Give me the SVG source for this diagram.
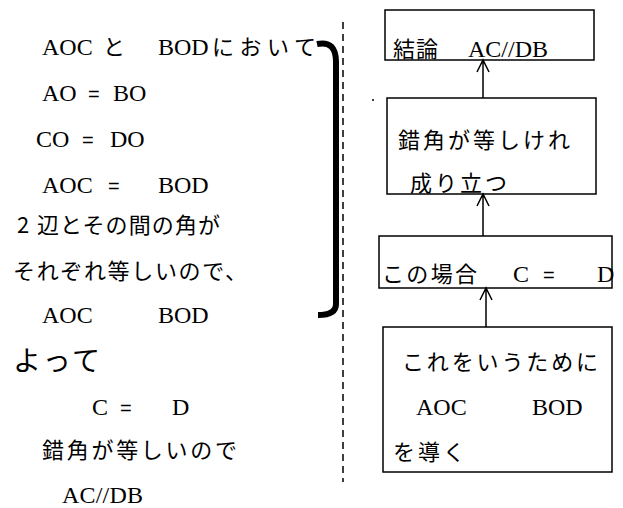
<svg xmlns="http://www.w3.org/2000/svg" width="623" height="508" viewBox="0 0 623 508">
<style>
.lat{font-family:"Liberation Serif","Times New Roman",serif;font-size:24px;fill:#000}
.jp{font-family:"Noto Sans CJK JP","Noto Sans",sans-serif;font-size:22px;fill:#000}
.eq{font-family:"Liberation Sans",Arial,sans-serif;font-size:20px;fill:#000}
.box{fill:#fff;stroke:#000;stroke-width:1.5}
.conn{fill:none;stroke:#000;stroke-width:1.5}
</style>
<rect width="623" height="508" fill="#fff"/>
<g id="proof">
<text class="lat" x="42" y="55">AOC</text><text class="jp" x="103" y="55">と</text><text class="lat" x="158" y="55">BOD</text><text class="jp" x="212" y="55" textLength="104" lengthAdjust="spacing">において</text>
<text class="lat" x="42" y="101">AO</text><text class="eq" x="88" y="101">=</text><text class="lat" x="113" y="101">BO</text>
<text class="lat" x="36" y="147">CO</text><text class="eq" x="82" y="147">=</text><text class="lat" x="110" y="147">DO</text>
<text class="lat" x="42" y="193">AOC</text><text class="eq" x="108" y="193">=</text><text class="lat" x="158" y="193">BOD</text>
<text class="jp" x="17" y="233">2</text><text class="jp" x="37" y="233" textLength="183" lengthAdjust="spacing">辺とその間の角が</text>
<text class="jp" x="13" y="279" textLength="234" lengthAdjust="spacing">それぞれ等しいので、</text>
<text class="lat" x="42" y="323">AOC</text><text class="lat" x="158" y="323">BOD</text>
<text class="jp" x="13" y="371" style="font-size:28px" textLength="87" lengthAdjust="spacing">よって</text>
<text class="lat" x="92" y="415">C</text><text class="eq" x="120" y="415">=</text><text class="lat" x="172" y="415">D</text>
<text class="jp" x="42" y="458" textLength="195" lengthAdjust="spacing">錯角が等しいので</text>
<text class="lat" x="62" y="503" textLength="81" lengthAdjust="spacing">AC//DB</text>
<path d="M317,44 Q336,40 336,62 L336,304 Q336,315 318,315" fill="none" stroke="#000" stroke-width="6"/>
</g>
<line x1="343" y1="22" x2="343" y2="482" stroke="#000" stroke-width="1.5" stroke-dasharray="7 5"/>
<circle cx="373" cy="100" r="1" fill="#000"/>
<g id="n1">
<rect class="box" x="385" y="10" width="209" height="50"/>
<text class="jp" x="393" y="57" textLength="45" lengthAdjust="spacing">結論</text><text class="lat" x="468" y="57" textLength="80" lengthAdjust="spacing">AC//DB</text>
</g>
<g id="n2">
<rect class="box" x="387" y="98" width="209" height="96"/>
<text class="jp" x="398" y="148" textLength="172" lengthAdjust="spacing">錯角が等しけれ</text>
<text class="jp" x="410" y="191" textLength="97" lengthAdjust="spacing">成り立つ</text>
</g>
<g id="n3">
<rect class="box" x="379" y="236" width="233" height="52"/>
<text class="jp" x="382" y="282" textLength="95" lengthAdjust="spacing">この場合</text><text class="lat" x="513" y="282">C</text><text class="eq" x="543" y="282">=</text><text class="lat" x="597" y="282">D</text>
</g>
<g id="n4">
<rect class="box" x="383" y="327" width="229" height="145"/>
<text class="jp" x="402" y="370" textLength="196" lengthAdjust="spacing">これをいうために</text>
<text class="lat" x="416" y="415">AOC</text><text class="lat" x="532" y="415">BOD</text>
<text class="jp" x="393" y="460" textLength="72" lengthAdjust="spacing">を導く</text>
</g>
<g id="connectors">
<path class="conn" d="M483,98 L483,60 M477,72 L483,60 L489,72"/>
<path class="conn" d="M483,236 L483,194 M477,206 L483,194 L489,206"/>
<path class="conn" d="M486,327 L486,288 M480,300 L486,288 L492,300"/>
</g>
</svg>
